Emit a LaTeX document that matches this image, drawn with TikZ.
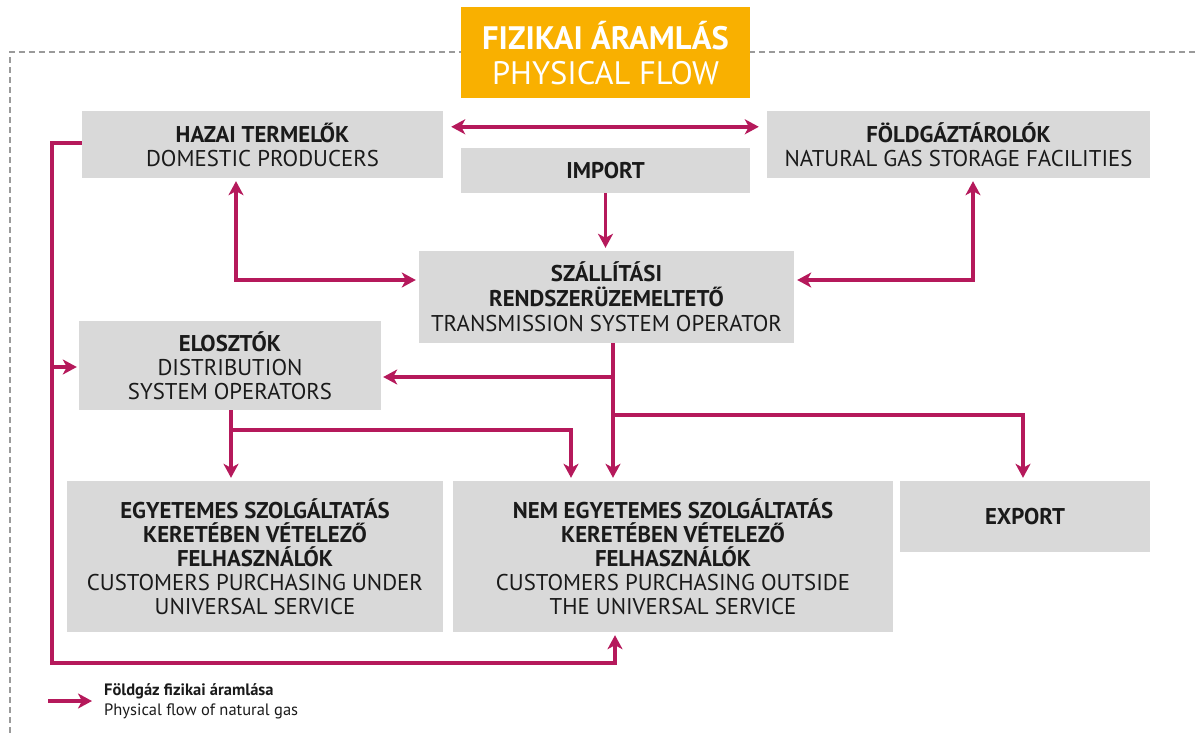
\documentclass[tikz,border=0pt]{standalone}
\usepackage{fontspec}
\setmainfont{PT Sans}
\usetikzlibrary{arrows.meta,calc}
\definecolor{flowc}{HTML}{B5195B}
\definecolor{boxg}{HTML}{D9D9D9}
\definecolor{titleo}{HTML}{F9B000}
\definecolor{txt}{HTML}{1A1A1A}
\definecolor{dashg}{HTML}{9A9A9A}
\begin{document}
\begin{tikzpicture}[x=1pt,y=-1pt,
  >={Stealth[length=14pt,width=15pt,inset=4pt]},
  box/.style={fill=boxg, inner sep=0pt, align=center, text=txt, font=\fontsize{22.8}{24}\selectfont},
  flow/.style={draw=flowc, line width=3.5pt},
  titlebox/.style={fill=titleo, inner sep=0pt, align=center, text=white, font=\fontsize{32.5}{35}\selectfont}]
\useasboundingbox (0,0) rectangle (1196,733);
% dashed frame
\draw[dashg, line width=1.5pt, dash pattern=on 6pt off 4pt] (10,733) -- (10,52) -- (1196,52);
% title
\node[titlebox, minimum width=289pt, minimum height=91pt] (title) at (605.5,53) {\textbf{FIZIKAI ÁRAMLÁS}\\PHYSICAL FLOW};
% boxes
\node[box, minimum width=361pt, minimum height=67pt] (haz) at (262.5,144.5) {\textbf{HAZAI TERMELŐK}\\DOMESTIC PRODUCERS};
\node[box, minimum width=383pt, minimum height=67pt] (fold) at (958.5,144.5) {\textbf{FÖLDGÁZTÁROLÓK}\\NATURAL GAS STORAGE FACILITIES};
\node[box, minimum width=289pt, minimum height=45pt] (imp) at (605.5,170.5) {\textbf{IMPORT}};
\node[box, minimum width=375pt, minimum height=92pt, font=\fontsize{22.8}{25}\selectfont] (tso) at (606.5,297) {\textbf{SZÁLLÍTÁSI}\\\textbf{RENDSZERÜZEMELTETŐ}\\TRANSMISSION SYSTEM OPERATOR};
\node[box, minimum width=302pt, minimum height=89pt] (elo) at (230,365.5) {\textbf{ELOSZTÓK}\\DISTRIBUTION\\SYSTEM OPERATORS};
\node[box, minimum width=376pt, minimum height=151pt] (egy) at (255,556.5) {\textbf{EGYETEMES SZOLGÁLTATÁS}\\\textbf{KERETÉBEN VÉTELEZŐ}\\\textbf{FELHASZNÁLÓK}\\CUSTOMERS PURCHASING UNDER\\UNIVERSAL SERVICE};
\node[box, minimum width=440pt, minimum height=151pt] (nem) at (673,556.5) {\textbf{NEM EGYETEMES SZOLGÁLTATÁS}\\\textbf{KERETÉBEN VÉTELEZŐ}\\\textbf{FELHASZNÁLÓK}\\CUSTOMERS PURCHASING OUTSIDE\\THE UNIVERSAL SERVICE};
\node[box, minimum width=250pt, minimum height=71pt] (exp) at (1025,516.5) {\textbf{EXPORT}};
% connectors
\draw[flow,<->] ($(haz.north east)+(8,16)$) -- ($(fold.north west)+(-8,16)$);
\draw[flow,->] (imp.south) -- ($(imp.south |- tso.north)+(0,-3)$);
\draw[flow,<->] ($(haz.south)+(-26.5,3)$) |- ($(tso.west)+(-3,-17)$);
\draw[flow,<->] ($(fold.south)+(14.5,3)$) |- ($(tso.east)+(3,-17)$);
\coordinate (t0) at ($(tso.south)+(6.5,0)$);
\coordinate (t1) at ($(t0)+(0,72)$);
\draw[flow,->] (t0) |- ($(elo.east)+(2,11.5)$);
\draw[flow,->] (t0) -- ($(t0 |- nem.north)+(0,-3)$);
\draw[flow,->] (t1) -| ($(exp.north)+(-2,-3)$);
\coordinate (e0) at ($(elo.south)+(1,0)$);
\coordinate (e1) at ($(e0)+(0,20)$);
\draw[flow,->] (e0) -- ($(e0 |- egy.north)+(0,-3)$);
\draw[flow,->] (e1) -| ($(nem.north)+(-102,-3)$);
\coordinate (lb) at (52,663);
\draw[flow,->] ($(haz.west)+(0,-1.5)$) -| (lb) -| ($(nem.south)+(-58,3)$);
\draw[flow,->] ($(lb |- elo.west)+(0,1.5)$) -- ($(elo.west)+(-2,1.5)$);
% legend
\coordinate (lg0) at (48,701);
\coordinate (lg1) at (92,701);
\draw[flow,->] (lg0) -- (lg1);
\node[anchor=west, align=left, inner sep=0pt, text=txt, font=\fontsize{16.5}{20}\selectfont] (leg) at (104,701) {\textbf{Földgáz fizikai áramlása}\\Physical flow of natural gas};
\end{tikzpicture}
\end{document}
